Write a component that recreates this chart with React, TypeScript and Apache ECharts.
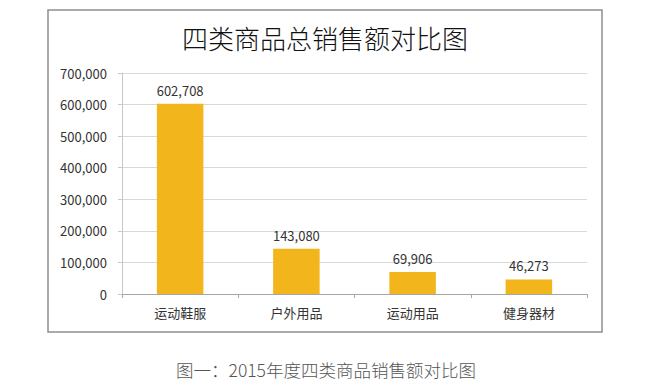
import React, { useEffect, useRef } from "react";
import * as echarts from "echarts";

const categories = ["运动鞋服", "户外用品", "运动用品", "健身器材"];
const sales = [602708, 143080, 69906, 46273];
const yMax = 700000;
const yInterval = 100000;
const titleText = "四类商品总销售额对比图";
const captionText = "图一：2015年度四类商品销售额对比图";

const fmt = (v: number) => v.toLocaleString("en-US");

export default function App() {
  const ref = useRef<HTMLDivElement>(null);
  useEffect(() => {
    document.body.style.margin = "0";
    const chart = echarts.init(ref.current!, null, { renderer: "svg" });
    const font = "'Noto Sans CJK SC', 'Noto Sans', sans-serif";
    chart.setOption({
      animation: false,
      backgroundColor: "#ffffff",
      title: {
        text: titleText,
        left: "center",
        top: 19,
        textStyle: { fontFamily: font, fontSize: 26, fontWeight: 300, color: "#111" },
      },
      grid: { left: 122, right: 63, top: 73, bottom: 92, containLabel: false },
      xAxis: {
        type: "category",
        data: categories,
        axisLine: { lineStyle: { color: "#a6a6a6" } },
        axisTick: { show: true, length: 4, lineStyle: { color: "#a6a6a6" } },
        axisLabel: { fontFamily: font, fontSize: 13, color: "#333", margin: 12 },
      },
      yAxis: {
        type: "value",
        min: 0,
        max: yMax,
        interval: yInterval,
        axisLine: { show: true, lineStyle: { color: "#c8c8c8" } },
        axisTick: { show: true, length: 4, lineStyle: { color: "#c8c8c8" } },
        splitLine: { lineStyle: { color: "#d9d9d9" } },
        axisLabel: {
          fontFamily: font,
          fontSize: 13,
          color: "#333",
          margin: 15,
          formatter: (v: number) => fmt(v),
        },
      },
      series: [
        {
          type: "bar",
          data: sales,
          barWidth: "40%",
          itemStyle: { color: "#F2B51B" },
          label: {
            show: true,
            position: "top",
            distance: 7,
            fontFamily: font,
            fontSize: 13,
            color: "#333",
            formatter: (p: any) => fmt(p.value),
          },
        },
      ],
      graphic: [
        {
          type: "rect",
          shape: { x: 48, y: 10, width: 554, height: 322 },
          style: { fill: "none", stroke: "#8f8f8f", lineWidth: 1.5 },
          silent: true,
        },
        {
          type: "text",
          x: 326,
          y: 369,
          style: {
            text: captionText,
            fontFamily: font,
            fontSize: 17.5,
            fontWeight: 300,
            fill: "#555",
            textAlign: "center",
            textVerticalAlign: "middle",
          },
        },
      ],
    });
    return () => chart.dispose();
  }, []);
  return <div ref={ref} style={{ width: 650, height: 386 }} />;
}
